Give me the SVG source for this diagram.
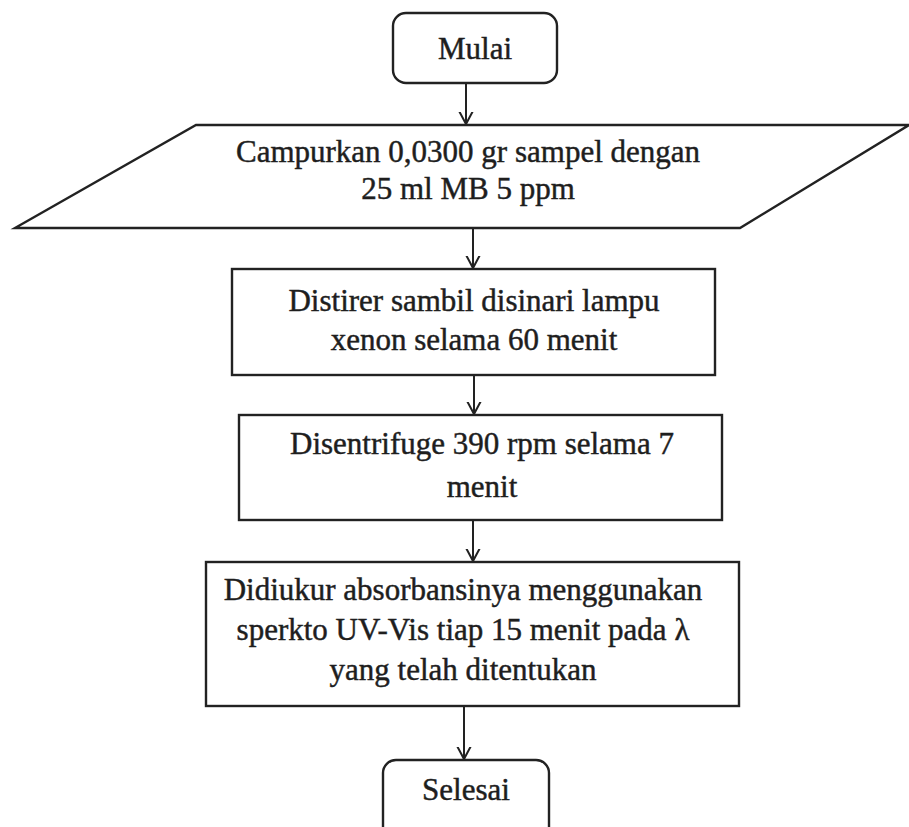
<svg xmlns="http://www.w3.org/2000/svg" width="909" height="827" viewBox="0 0 909 827">
  <style>
    .shape { fill: #ffffff; stroke: #222222; stroke-width: 2.4; }
    .label { font-family: "Liberation Serif", "Times New Roman", serif; font-size: 31px; fill: #1e1e1e; stroke: #1e1e1e; stroke-width: 0.45; text-anchor: middle; }
    .link { fill: none; stroke: #222222; stroke-width: 2; marker-end: url(#arrow); }
  </style>
  <defs>
    <marker id="arrow" markerUnits="userSpaceOnUse" markerWidth="24" markerHeight="24" viewBox="-12 -12 24 24" refX="0" refY="0" orient="auto">
      <path d="M-15,-8 L0,0 L-15,8" fill="none" stroke="#222222" stroke-width="2"/>
    </marker>
  </defs>
  <rect width="909" height="827" fill="#ffffff"/>

  <g id="connectors">
    <path class="link" d="M466,83 V124"/>
    <path class="link" d="M473,228 V268"/>
    <path class="link" d="M474,375 V414"/>
    <path class="link" d="M473,520 V561"/>
    <path class="link" d="M464,706 V759"/>
  </g>

  <g id="start">
    <rect class="shape" x="393" y="13" width="164" height="70" rx="13"/>
    <text class="label" x="475" y="59">Mulai</text>
  </g>

  <g id="input">
    <polygon class="shape" points="196,125 909,125 740,228 15,228"/>
    <text class="label" x="468" y="162">Campurkan 0,0300 gr sampel dengan</text>
    <text class="label" x="468" y="199">25 ml MB 5 ppm</text>
  </g>

  <g id="stir">
    <rect class="shape" x="232" y="269" width="483" height="106"/>
    <text class="label" x="474" y="311">Distirer sambil disinari lampu</text>
    <text class="label" x="474" y="350">xenon selama 60 menit</text>
  </g>

  <g id="centrifuge">
    <rect class="shape" x="239" y="415" width="483" height="105"/>
    <text class="label" x="482" y="454">Disentrifuge 390 rpm selama 7</text>
    <text class="label" x="482" y="497">menit</text>
  </g>

  <g id="measure">
    <rect class="shape" x="206" y="562" width="533" height="144"/>
    <text class="label" x="463" y="600">Didiukur absorbansinya menggunakan</text>
    <text class="label" x="463" y="640">sperkto UV-Vis tiap 15 menit pada λ</text>
    <text class="label" x="463" y="680">yang telah ditentukan</text>
  </g>

  <g id="end">
    <rect class="shape" x="383" y="760" width="166" height="80" rx="13"/>
    <text class="label" x="466" y="800">Selesai</text>
  </g>
</svg>
